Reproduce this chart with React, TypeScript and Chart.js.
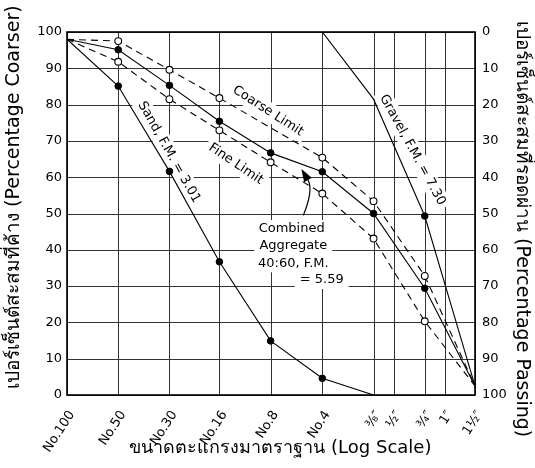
import { useEffect, useRef } from "react";
import { Chart, registerables } from "chart.js";

Chart.register(...registerables);

// Sieve sizes (mm) and their labels
const sieveLabels = ["No.100", "No.50", "No.30", "No.16", "No.8", "No.4", "⅜″", "½″", "¾″", "1″", "1½″"];
const sieveSizesMm = [0.15, 0.3, 0.6, 1.18, 2.36, 4.75, 9.5, 12.5, 19, 25, 37.5];

// Cumulative percentage retained (coarser), null = not plotted
const sandCoarser = [98, 85.1, 61.6, 36.7, 14.9, 4.6, 0, null, null, null, null];
const gravelCoarser = [null, null, null, null, null, 100, 81.5, null, 49.3, null, 2.5];
const combinedCoarser = [98, 95.1, 85.3, 75.4, 66.7, 61.5, 50, null, 29.4, null, 2.5];
const coarseLimit = [98, 97.5, 89.6, 81.8, null, 65.4, 53.4, null, 32.8, null, 2.5];
const fineLimit = [98, 91.8, 81.5, 72.9, 64.1, 55.5, 43.1, null, 20.3, null, 2.5];

const yMin = 0;
const yMax = 100;
const yStep = 5;
const yLabelStep = 10;

const xTitle = "ขนาดตะแกรงมาตราฐาน (Log Scale)";
const yLeftTitle = "เปอร์เซ็นต์สะสมที่ค้าง (Percentage Coarser)";
const yRightTitle = "เปอร์เซ็นต์สะสมที่รอดผ่าน (Percentage Passing)";

const FONT = '"DejaVu Sans", "Noto Sans", sans-serif';

type Pt = { x: number; y: number };

function toPoints(vals: (number | null)[]): Pt[] {
  const out: Pt[] = [];
  sieveSizesMm.forEach((x, i) => {
    const v = vals[i];
    if (v !== null && v !== undefined) out.push({ x, y: v });
  });
  return out;
}

function markerRadii(vals: (number | null)[], r: number, unmarked: number[] = []): number[] {
  const p = toPoints(vals);
  return p.map((pt, i) => (i === 0 || i === p.length - 1 || unmarked.includes(pt.x) ? 0 : r));
}

const rotatedLabels = [
  { text: "Sand, F.M. = 3.01", fx: 0.25, fy: 0.331, angle: 60.6 },
  { text: "Coarse Limit", fx: 0.4926, fy: 0.2176, angle: 33 },
  { text: "Fine Limit", fx: 0.414, fy: 0.3636, angle: 34 },
  { text: "Gravel, F.M. = 7.30", fx: 0.8468, fy: 0.325, angle: 61.3 },
];

const combinedLines = [
  { text: "Combined", fx: 0.5507, fy: 0.5427 },
  { text: "Aggregate", fx: 0.5547, fy: 0.5895 },
  { text: "40:60, F.M.", fx: 0.5547, fy: 0.6372 },
  { text: "= 5.59", fx: 0.6243, fy: 0.6832 },
];

const annotationPlugin = {
  id: "gradingAnnotations",
  beforeDatasetsDraw(chart: any) {
    const { ctx, chartArea: a } = chart;
    const xs = chart.scales.x;
    const ys = chart.scales.y;
    // grid at the scales' ticks
    ctx.save();
    ctx.lineWidth = 1;
    ctx.strokeStyle = "#333333";
    ctx.setLineDash([]);
    const xTickList = xs.ticks || [];
    for (let i = 0; i < xTickList.length; i++) {
      const x = Math.round(xs.getPixelForTick(i)) + 0.5;
      ctx.beginPath();
      ctx.moveTo(x, a.top);
      ctx.lineTo(x, a.bottom);
      ctx.stroke();
    }
    const yTickList = ys.ticks || [];
    for (let i = 0; i < yTickList.length; i++) {
      const y = Math.round(ys.getPixelForTick(i)) + 0.5;
      ctx.beginPath();
      ctx.moveTo(a.left, y);
      ctx.lineTo(a.right, y);
      ctx.stroke();
    }
    ctx.restore();

    const px = (f: number) => a.left + f * (a.right - a.left);
    const py = (f: number) => a.top + f * (a.bottom - a.top);
    ctx.save();
    ctx.font = `13px ${FONT}`;
    ctx.textAlign = "center";
    ctx.textBaseline = "middle";
    for (const lab of rotatedLabels) {
      ctx.save();
      ctx.translate(px(lab.fx), py(lab.fy));
      ctx.rotate((lab.angle * Math.PI) / 180);
      const w = ctx.measureText(lab.text).width;
      ctx.fillStyle = "#fff";
      ctx.fillRect(-w / 2 - 4, -9, w + 8, 18);
      ctx.fillStyle = "#000";
      ctx.fillText(lab.text, 0, 0);
      ctx.restore();
    }
    for (const lab of combinedLines) {
      const w = ctx.measureText(lab.text).width;
      const x = px(lab.fx);
      const y = py(lab.fy);
      ctx.fillStyle = "#fff";
      ctx.fillRect(x - w / 2 - 5, y - 9, w + 10, 18);
      ctx.fillStyle = "#000";
      ctx.fillText(lab.text, x, y);
    }
    ctx.restore();
  },
  afterDatasetsDraw(chart: any) {
    const { ctx, chartArea: a } = chart;
    const px = (f: number) => a.left + f * (a.right - a.left);
    const py = (f: number) => a.top + f * (a.bottom - a.top);
    const s = { x: px(0.5792), y: py(0.5052) };
    const c = { x: px(0.6045), y: py(0.4353) };
    const e = { x: px(0.5907), y: py(0.4077) };
    const t = { x: px(0.5745), y: py(0.3775) };
    ctx.save();
    ctx.strokeStyle = "#000";
    ctx.lineWidth = 1.2;
    ctx.beginPath();
    ctx.moveTo(s.x, s.y);
    ctx.quadraticCurveTo(c.x, c.y, e.x, e.y);
    ctx.stroke();
    const ang = Math.atan2(t.y - e.y, t.x - e.x);
    const hw = 4.5;
    ctx.fillStyle = "#000";
    ctx.beginPath();
    ctx.moveTo(t.x, t.y);
    ctx.lineTo(e.x + Math.cos(ang + Math.PI / 2) * hw, e.y + Math.sin(ang + Math.PI / 2) * hw);
    ctx.lineTo(e.x + Math.cos(ang - Math.PI / 2) * hw, e.y + Math.sin(ang - Math.PI / 2) * hw);
    ctx.closePath();
    ctx.fill();
    ctx.restore();
  },
  afterDraw(chart: any) {
    const { ctx, chartArea: a } = chart;
    ctx.save();
    ctx.strokeStyle = "#000";
    ctx.lineWidth = 1.6;
    ctx.setLineDash([]);
    ctx.strokeRect(a.left, a.top, a.right - a.left, a.bottom - a.top);
    ctx.fillStyle = "#000";
    ctx.textAlign = "center";
    ctx.textBaseline = "middle";
    ctx.font = `18px ${FONT}`;
    ctx.fillText(xTitle, a.left + 0.523 * (a.right - a.left), chart.height - 20);
    ctx.font = `19px ${FONT}`;
    ctx.save();
    ctx.translate(14, a.top + 0.455 * (a.bottom - a.top));
    ctx.rotate(-Math.PI / 2);
    ctx.fillText(yLeftTitle, 0, 0);
    ctx.restore();
    ctx.save();
    ctx.translate(chart.width - 13, a.top + 0.543 * (a.bottom - a.top));
    ctx.rotate(Math.PI / 2);
    ctx.fillText(yRightTitle, 0, 0);
    ctx.restore();
    ctx.restore();
  },
};

export default function App() {
  const canvasRef = useRef<HTMLCanvasElement | null>(null);

  useEffect(() => {
    if (!canvasRef.current) return;
    const solid = (label: string, vals: (number | null)[], unmarked: number[] = []) => ({
      label,
      data: toPoints(vals),
      borderColor: "#000",
      borderWidth: 1.1,
      pointRadius: markerRadii(vals, 3.3, unmarked),
      pointBackgroundColor: "#000",
      pointBorderColor: "#000",
      pointBorderWidth: 1,
      tension: 0,
      fill: false,
    });
    const dashed = (label: string, vals: (number | null)[]) => ({
      label,
      data: toPoints(vals),
      borderColor: "#000",
      borderWidth: 1.1,
      borderDash: [7, 5],
      pointRadius: markerRadii(vals, 3.4),
      pointBackgroundColor: "#fff",
      pointBorderColor: "#000",
      pointBorderWidth: 1.1,
      tension: 0,
      fill: false,
    });

    const gridOpts = () => ({ display: true, drawOnChartArea: false, drawTicks: false });
    const tickFont = { family: FONT, size: 13 };

    const chart = new Chart(canvasRef.current, {
      type: "line",
      data: {
        datasets: [
          dashed("Coarse Limit", coarseLimit),
          dashed("Fine Limit", fineLimit),
          solid("Sand", sandCoarser),
          solid("Gravel", gravelCoarser, [9.5]),
          solid("Combined Aggregate", combinedCoarser),
        ] as any,
      },
      options: {
        animation: false,
        responsive: false,
        devicePixelRatio: 1,
        spanGaps: true,
        layout: { padding: { top: 32, left: 0, right: 0, bottom: 0 } },
        plugins: {
          legend: { display: false },
          tooltip: { enabled: false },
        },
        scales: {
          x: {
            type: "logarithmic",
            min: sieveSizesMm[0],
            max: sieveSizesMm[sieveSizesMm.length - 1],
            afterBuildTicks: (scale: any) => {
              scale.ticks = sieveSizesMm.map((v) => ({ value: v }));
            },
            afterFit: (scale: any) => {
              scale.height = 73;
            },
            ticks: {
              autoSkip: false,
              maxRotation: 57,
              minRotation: 57,
              padding: 13,
              labelOffset: 5,
              color: "#000",
              font: tickFont,
              callback: (_v: any, i: number) => sieveLabels[i],
            },
            grid: gridOpts(),
            border: { display: false },
            title: { display: false, text: xTitle },
          },
          y: {
            type: "linear",
            position: "left",
            min: yMin,
            max: yMax,
            afterFit: (scale: any) => {
              scale.width = 67;
            },
            ticks: {
              stepSize: yStep,
              padding: 5,
              color: "#000",
              font: tickFont,
              callback: (v: any) => (Number(v) % yLabelStep === 0 ? String(v) : ""),
            },
            grid: gridOpts(),
            border: { display: false },
            title: { display: false, text: yLeftTitle },
          },
          y2: {
            type: "linear",
            position: "right",
            reverse: true,
            min: yMin,
            max: yMax,
            afterFit: (scale: any) => {
              scale.width = 60;
            },
            ticks: {
              stepSize: yStep,
              padding: 7,
              color: "#000",
              font: tickFont,
              callback: (v: any) => (Number(v) % yLabelStep === 0 ? String(v) : ""),
            },
            grid: gridOpts(),
            border: { display: false },
            title: { display: false, text: yRightTitle },
          },
        },
      } as any,
      plugins: [annotationPlugin],
    });
    return () => chart.destroy();
  }, []);

  return (
    <div style={{ position: "fixed", left: 0, top: 0, width: 535, height: 468, background: "#fff" }}>
      <canvas ref={canvasRef} width={535} height={468} style={{ width: 535, height: 468 }} />
    </div>
  );
}
